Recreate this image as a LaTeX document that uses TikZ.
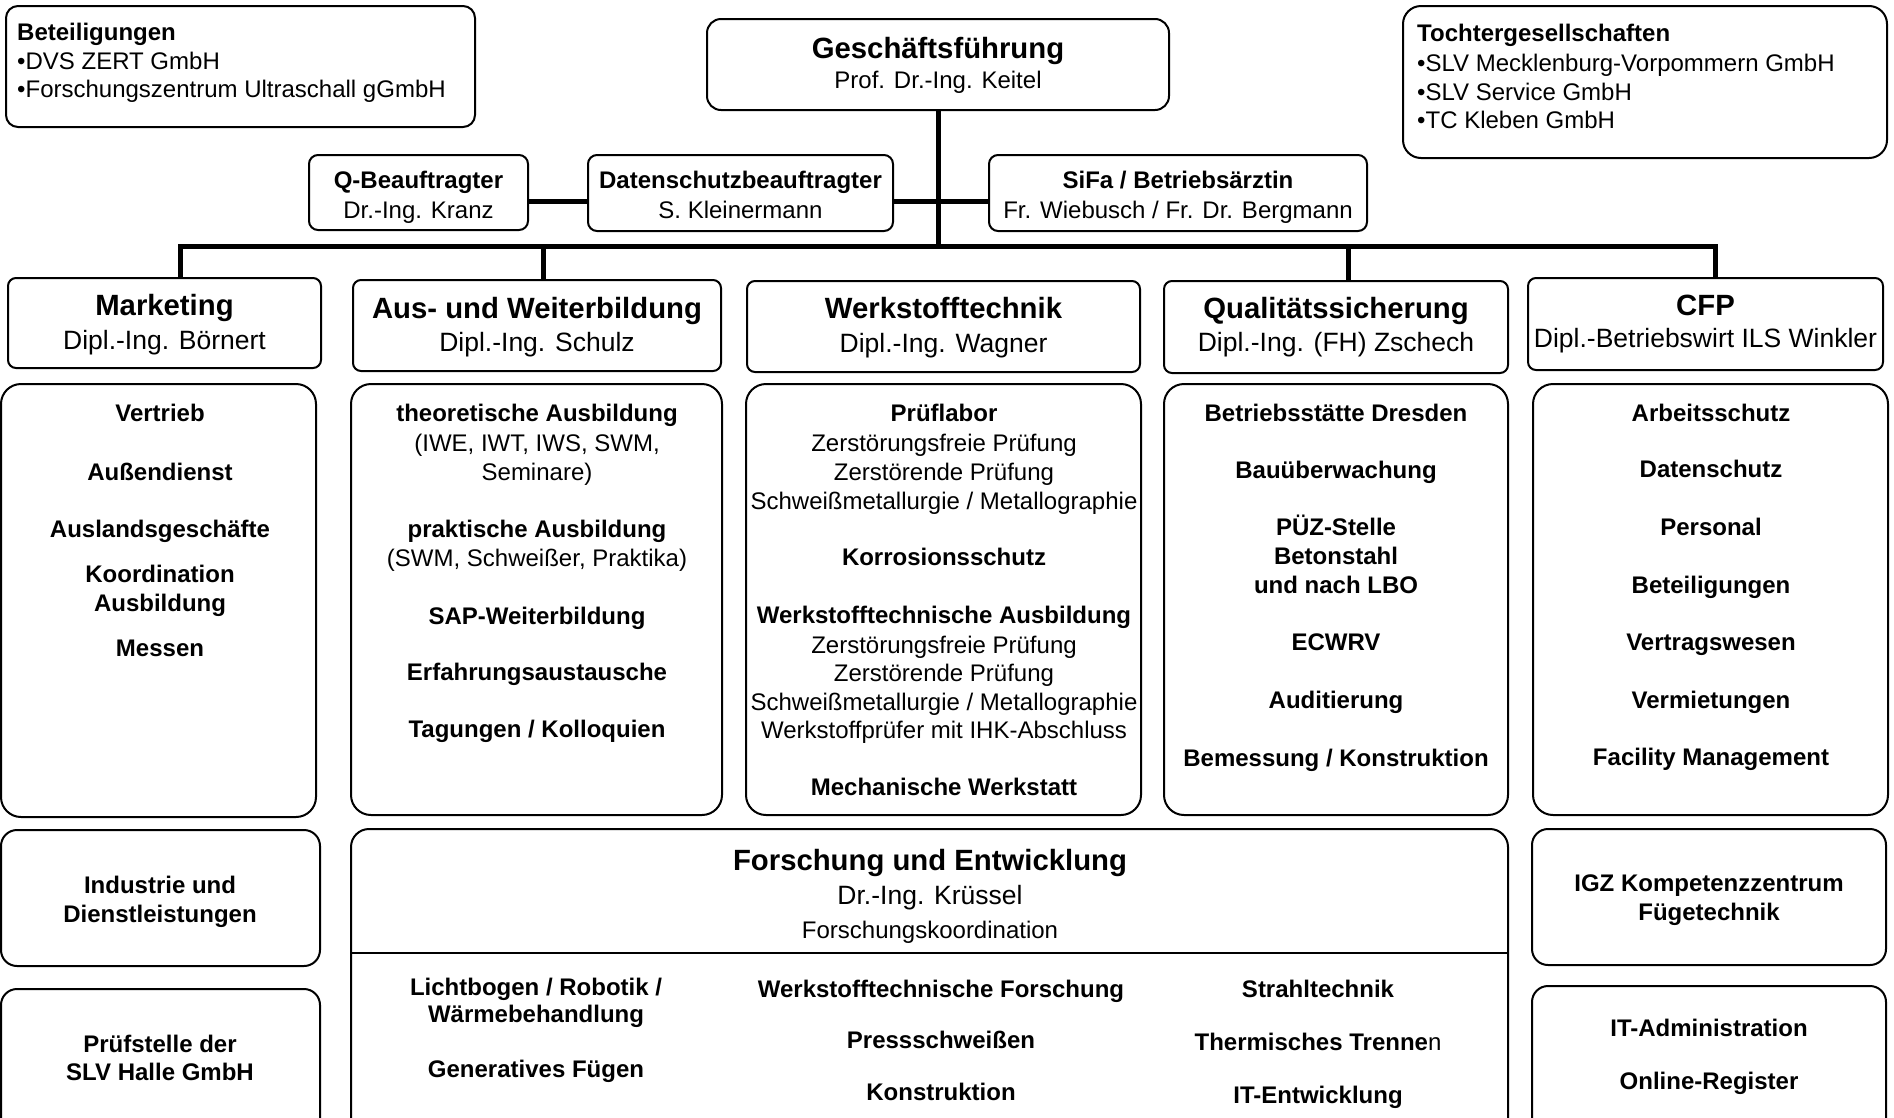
\documentclass[tikz,border=0pt]{standalone}
\usepackage{fontspec}
\setmainfont{Liberation Sans}
\usetikzlibrary{fit}
\newcommand\fbody{\fontsize{24}{29}\selectfont}
\newcommand\fhead{\fontsize{29.3}{35}\selectfont\bfseries}
\newcommand\fname{\fontsize{26.5}{32}\selectfont}
\tikzset{
 bx/.style={draw, line width=2pt, inner sep=0pt, outer sep=0pt, rounded corners=#1},
 bx/.default=10pt,
 conn/.style={line width=5pt},
 t/.style={anchor=base, inner sep=0pt, font=\fbody, yshift=-8.6pt},
 tb/.style={t, font=\fbody\bfseries},
 th/.style={anchor=base, inner sep=0pt, font=\fhead, yshift=-10.5pt},
 tn/.style={anchor=base, inner sep=0pt, font=\fname, yshift=-9.5pt},
 tl/.style={t, anchor=base west},
 tlb/.style={tb, anchor=base west},
}
\begin{document}
\begin{tikzpicture}[x=1pt,y=-1pt]
\useasboundingbox (0,0) rectangle (1894,1117);
\clip (0,0) rectangle (1894,1117);
\fill[white] (0,0) rectangle (1894,1117);

% ---------- top row ----------
\node[bx=12pt, fit={(6,6) (475,127)}] (bet) {};
\node[tlb] (betT) at (17,32) {Beteiligungen};
\node[tl] (bet1) at (17,61) {•DVS ZERT GmbH};
\node[tl] (bet2) at (17,89) {•Forschungszentrum Ultraschall gGmbH};

\node[bx=14pt, fit={(707,19) (1169,110)}] (gf) {};
\node[th] (gfT) at (938,48) {Geschäftsführung};
\node[t] (gfN) at (938,80) {Prof. Dr.-Ing. Keitel};

\node[bx=18pt, fit={(1403,6) (1887,158)}] (toc) {};
\node[tlb] (tocT) at (1417,33) {Tochtergesellschaften};
\node[tl] (toc1) at (1417,63) {•SLV Mecklenburg-Vorpommern GmbH};
\node[tl] (toc2) at (1417,92) {•SLV Service GmbH};
\node[tl] (toc3) at (1417,120) {•TC Kleben GmbH};

\node[bx=9pt, fit={(309,155) (528,230)}] (q) {};
\node[tb] (qT) at (418.5,180) {Q-Beauftragter};
\node[t] (qN) at (418.5,210) {Dr.-Ing. Kranz};

\node[bx=9pt, fit={(588,155) (893,231)}] (ds) {};
\node[tb] (dsT) at (740.5,180) {Datenschutzbeauftragter};
\node[t] (dsN) at (740.5,210) {S. Kleinermann};

\node[bx=9pt, fit={(989,155) (1367,231)}] (sf) {};
\node[tb] (sfT) at (1178,180) {SiFa / Betriebsärztin};
\node[t] (sfN) at (1178,210) {Fr. Wiebusch / Fr. Dr. Bergmann};

% ---------- department headers ----------
\node[bx=8pt, fit={(8,278) (321,368)}] (mk) {};
\node[th] (mkT) at (164.5,305) {Marketing};
\node[tn] (mkN) at (164.5,340) {Dipl.-Ing. Börnert};

\node[bx=8pt, fit={(353,280) (721,371)}] (aw) {};
\node[th] (awT) at (537,308) {Aus- und Weiterbildung};
\node[tn] (awN) at (537,342) {Dipl.-Ing. Schulz};

\node[bx=8pt, fit={(747,281) (1140,372)}] (wt) {};
\node[th] (wtT) at (943.5,308) {Werkstofftechnik};
\node[tn] (wtN) at (943.5,343) {Dipl.-Ing. Wagner};

\node[bx=8pt, fit={(1164,281) (1508,373)}] (qs) {};
\node[th] (qsT) at (1336,308) {Qualitätssicherung};
\node[tn] (qsN) at (1336,342) {Dipl.-Ing. (FH) Zschech};

\node[bx=8pt, fit={(1528,278) (1883,370)}] (cfp) {};
\node[th] (cfpT) at (1705.5,305) {CFP};
\node[tn] (cfpN) at (1705.5,338) {Dipl.-Betriebswirt ILS Winkler};

% ---------- connectors ----------
\coordinate (sl) at (938,201);
\coordinate (busM) at (938,246);
\coordinate (bL) at (180,246);
\coordinate (bA) at (543,246);
\coordinate (bQ) at (1348,246);
\coordinate (bR) at (1715,246);
\draw[conn] (gf.south) -- (busM);
\draw[conn] (q.east |- sl) -- (ds.west |- sl);
\draw[conn] (ds.east |- sl) -- (sf.west |- sl);
\draw[conn] (bL |- mk.north) -- (bL) -- (bR) -- (bR |- cfp.north);
\draw[conn] (bA) -- (bA |- aw.north);
\draw[conn] (bQ) -- (bQ |- qs.north);

% ---------- content boxes ----------
\node[bx=20pt, fit={(1,384) (316,817)}] (mkc) {};
\node[tb] (mk1) at (160,413) {Vertrieb};
\node[tb] (mk2) at (160,472) {Außendienst};
\node[tb] (mk3) at (160,529) {Auslandsgeschäfte};
\node[tb] (mk4) at (160,574) {Koordination};
\node[tb] (mk5) at (160,603) {Ausbildung};
\node[tb] (mk6) at (160,648) {Messen};

\node[bx=20pt, fit={(351,384) (722,815)}] (awc) {};
\node[tb] (aw1) at (537,413) {theoretische Ausbildung};
\node[t]  (aw2) at (537,443) {(IWE, IWT, IWS, SWM,};
\node[t]  (aw3) at (537,472) {Seminare)};
\node[tb] (aw4) at (537,529) {praktische Ausbildung};
\node[t]  (aw5) at (537,558) {(SWM, Schweißer, Praktika)};
\node[tb] (aw6) at (537,616) {SAP-Weiterbildung};
\node[tb] (aw7) at (537,672) {Erfahrungsaustausche};
\node[tb] (aw8) at (537,729) {Tagungen / Kolloquien};

\node[bx=20pt, fit={(746,384) (1141,815)}] (wtc) {};
\node[tb] (wt1) at (944,413) {Prüflabor};
\node[t]  (wt2) at (944,443) {Zerstörungsfreie Prüfung};
\node[t]  (wt3) at (944,472) {Zerstörende Prüfung};
\node[t]  (wt4) at (944,501) {Schweißmetallurgie / Metallographie};
\node[tb] (wt5) at (944,557) {Korrosionsschutz};
\node[tb] (wt6) at (944,615) {Werkstofftechnische Ausbildung};
\node[t]  (wt7) at (944,645) {Zerstörungsfreie Prüfung};
\node[t]  (wt8) at (944,673) {Zerstörende Prüfung};
\node[t]  (wt9) at (944,702) {Schweißmetallurgie / Metallographie};
\node[t]  (wt10) at (944,730) {Werkstoffprüfer mit IHK-Abschluss};
\node[tb] (wt11) at (944,787) {Mechanische Werkstatt};

\node[bx=20pt, fit={(1164,384) (1508,815)}] (qsc) {};
\node[tb] (qs1) at (1336,413) {Betriebsstätte Dresden};
\node[tb] (qs2) at (1336,470) {Bauüberwachung};
\node[tb] (qs3) at (1336,527) {PÜZ-Stelle};
\node[tb] (qs4) at (1336,556) {Betonstahl};
\node[tb] (qs5) at (1336,585) {und nach LBO};
\node[tb] (qs6) at (1336,642) {ECWRV};
\node[tb] (qs7) at (1336,700) {Auditierung};
\node[tb] (qs8) at (1336,758) {Bemessung / Konstruktion};

\node[bx=20pt, fit={(1533,384) (1888,815)}] (cfpc) {};
\node[tb] (cf1) at (1711,413) {Arbeitsschutz};
\node[tb] (cf2) at (1711,469) {Datenschutz};
\node[tb] (cf3) at (1711,527) {Personal};
\node[tb] (cf4) at (1711,585) {Beteiligungen};
\node[tb] (cf5) at (1711,642) {Vertragswesen};
\node[tb] (cf6) at (1711,700) {Vermietungen};
\node[tb] (cf7) at (1711,757) {Facility Management};

% ---------- bottom row ----------
\node[bx=16pt, fit={(1,830) (320,966)}] (ind) {};
\node[tb] (ind1) at (160,885) {Industrie und};
\node[tb] (ind2) at (160,914) {Dienstleistungen};

\node[bx=16pt, fit={(1,989) (320,1140)}] (pru) {};
\node[tb] (pru1) at (160,1044) {Prüfstelle der};
\node[tb] (pru2) at (160,1072) {SLV Halle GmbH};

\node[bx=18pt, fit={(351,829) (1508,1140)}] (fe) {};
\coordinate (fediv) at (930,953);
\draw[line width=2.5pt] (fe.west |- fediv) -- (fe.east |- fediv);
\node[th] (feT) at (930,860) {Forschung und Entwicklung};
\node[tn] (feN) at (930,895) {Dr.-Ing. Krüssel};
\node[t]  (feK) at (930,930) {Forschungskoordination};
\node[tb] (fa1) at (536,987) {Lichtbogen / Robotik /};
\node[tb] (fa2) at (536,1014) {Wärmebehandlung};
\node[tb] (fa3) at (536,1069) {Generatives Fügen};
\node[tb] (fb1) at (941,989) {Werkstofftechnische Forschung};
\node[tb] (fb2) at (941,1040) {Pressschweißen};
\node[tb] (fb3) at (941,1092) {Konstruktion};
\node[tb] (fc1) at (1318,989) {Strahltechnik};
\node[tb] (fc2) at (1318,1042) {Thermisches Trenne{\mdseries n}};
\node[tb] (fc3) at (1318,1095) {IT-Entwicklung};

\node[bx=16pt, fit={(1532,829) (1886,965)}] (igz) {};
\node[tb] (igz1) at (1709,883) {IGZ Kompetenzzentrum};
\node[tb] (igz2) at (1709,912) {Fügetechnik};

\node[bx=16pt, fit={(1532,986) (1886,1140)}] (it) {};
\node[tb] (it1) at (1709,1028) {IT-Administration};
\node[tb] (it2) at (1709,1081) {Online-Register};
\end{tikzpicture}
\end{document}
